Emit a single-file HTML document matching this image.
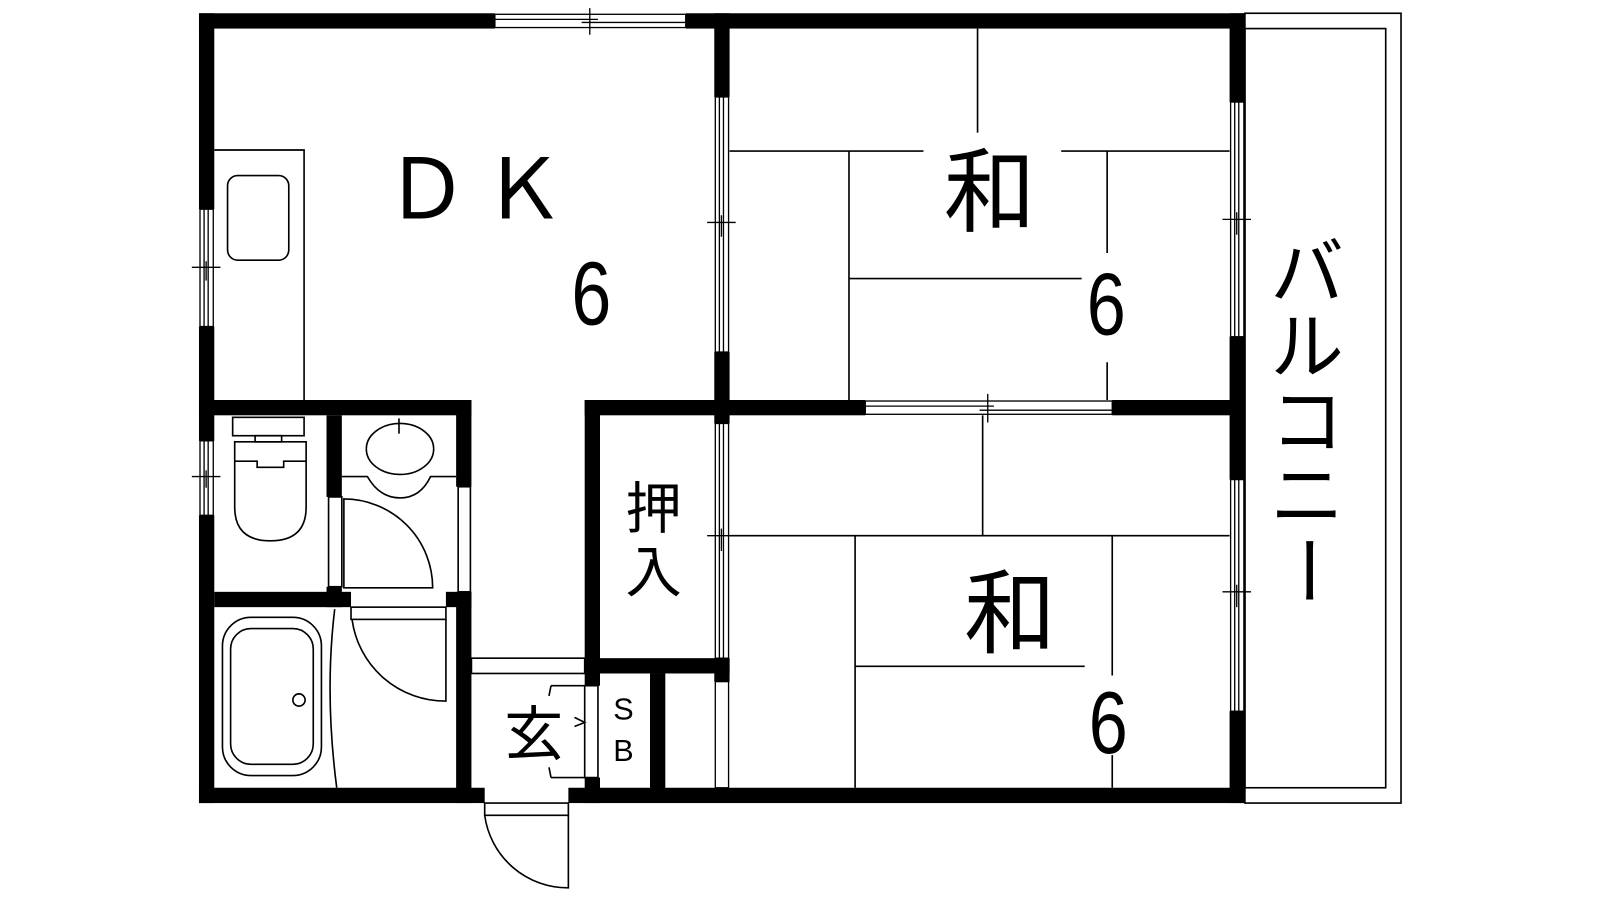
<!DOCTYPE html>
<html><head><meta charset="utf-8"><style>
html,body{margin:0;padding:0;background:#fff;}
svg{display:block;}
text{font-family:"Liberation Sans","Noto Sans CJK JP",sans-serif;fill:#000;}
</style></head><body>
<svg width="1600" height="900" viewBox="0 0 1568 882" xmlns="http://www.w3.org/2000/svg">
<rect width="1568" height="882" fill="#fff"/>
<g fill="none" stroke="#000" stroke-width="1.6">
<rect x="1220" y="13" width="153" height="774"/>
<rect x="1220" y="28" width="138" height="744"/>
<polyline points="210,147 298,147 298,392"/>
<rect x="223" y="172" width="60" height="83" rx="10"/>
<rect x="228" y="409" width="70" height="18"/>
<rect x="250" y="427" width="26" height="6"/>
<path d="M230,433 H300 V497 Q300,530 265,530 Q230,530 230,497 Z"/>
<polyline points="230,452 252,452 252,458 278,458 278,452 300,452"/>
<ellipse cx="392" cy="440" rx="33" ry="25"/>
<path d="M335,467 H360 Q372,488 392,488 Q412,488 422,467 H447"/>
<path d="M391,410 V425"/>
<rect x="322" y="487" width="13" height="88" fill="#fff"/>
<path d="M337,489 A87,87 0 0 1 424,576 H337 Z"/>
<rect x="449" y="477" width="12" height="103" fill="#fff"/>
<rect x="344" y="595" width="93" height="12" fill="#fff"/>
<path d="M345,607 A92,92 0 0 0 437,687 V607"/>
<rect x="218" y="605" width="97" height="155" rx="28"/>
<rect x="226" y="616" width="81" height="133" rx="20"/>
<circle cx="293" cy="686" r="6"/>
<path d="M328,597 Q318,680 330,772"/>
<rect x="462" y="645" width="111" height="15" fill="#fff"/>
<rect x="573" y="672" width="13" height="90" fill="#fff"/>
<polyline points="540,672 573,672"/>
<polyline points="540,762 573,762"/>
<path d="M540,672 L538,682 M540,762 L538,752"/>
<path d="M563,703 L573,708 L563,712"/>
<rect x="475" y="787" width="82" height="12" fill="#fff"/>
<path d="M475,799 A82,82 0 0 0 557,870 V799"/>
<path d="M958,28 V130"/>
<path d="M715,148 H905 M1040,148 H1205"/>
<path d="M832,148 V392"/>
<path d="M1085,148 V248 M1085,355 V392"/>
<path d="M832,273 H1060"/>
<path d="M963,407 V525"/>
<path d="M715,525 H1205"/>
<path d="M838,525 V772"/>
<path d="M1090,525 V662 M1090,740 V772"/>
<path d="M838,653 H1063"/>
</g>
<g fill="#000">
<rect x="195" y="13" width="290" height="15"/>
<rect x="672" y="13" width="548" height="15"/>
<rect x="195" y="13" width="15" height="192"/>
<rect x="195" y="320" width="15" height="112"/>
<rect x="195" y="505" width="15" height="282"/>
<rect x="195" y="772" width="280" height="15"/>
<rect x="557" y="772" width="663" height="15"/>
<rect x="1205" y="13" width="15" height="87"/>
<rect x="1205" y="330" width="15" height="140"/>
<rect x="1205" y="697" width="15" height="90"/>
<rect x="700" y="13" width="15" height="82"/>
<rect x="700" y="345" width="15" height="70"/>
<rect x="195" y="392" width="267" height="15"/>
<rect x="573" y="392" width="275" height="15"/>
<rect x="1090" y="392" width="130" height="15"/>
<rect x="320" y="407" width="15" height="80"/>
<rect x="320" y="575" width="15" height="20"/>
<rect x="447" y="392" width="15" height="85"/>
<rect x="447" y="580" width="15" height="207"/>
<rect x="210" y="580" width="134" height="15"/>
<rect x="437" y="580" width="25" height="15"/>
<rect x="573" y="392" width="15" height="280"/>
<rect x="573" y="762" width="15" height="25"/>
<rect x="573" y="645" width="142" height="15"/>
<rect x="637" y="660" width="15" height="115"/>
<rect x="700" y="645" width="15" height="23"/>
</g>
<g fill="#fff" stroke="#000" stroke-width="1.3">
<rect x="485" y="14" width="187" height="13"/>
<path d="M485,19 H575 M570,22 H672 M578,8 V34 M572,19 H586"/>
<rect x="196" y="205" width="13" height="115"/>
<path d="M200,205 V320 M204,205 V320 M188,262 H216 M202,256 V275"/>
<rect x="196" y="432" width="13" height="73"/>
<path d="M200,432 V505 M204,432 V505 M188,467 H216 M202,461 V478"/>
<rect x="701" y="95" width="13" height="250"/>
<path d="M705,95 V345 M709,95 V345 M693,218 H721 M707,211 V232"/>
<rect x="701" y="415" width="13" height="230"/>
<path d="M705,415 V645 M709,415 V645 M693,525 H721 M707,518 V540"/>
<rect x="701" y="668" width="13" height="104"/>
<rect x="1206" y="100" width="13" height="230"/>
<path d="M1210,100 V330 M1214,100 V330 M1198,215 H1226 M1212,208 V230"/>
<rect x="1206" y="470" width="13" height="227"/>
<path d="M1210,470 V697 M1214,470 V697 M1198,580 H1226 M1212,573 V595"/>
<rect x="848" y="393" width="242" height="13"/>
<path d="M848,398 H970 M960,402 H1090 M968,386 V414 M962,398 H974"/>
</g>
<text x="377" y="214" font-size="82">Ｄ</text>
<text x="472" y="214" font-size="82">Ｋ</text>
<text transform="translate(560,318) scale(0.8,1)" font-size="88">6</text>
<text x="925" y="220" font-size="90" font-family="Noto Sans CJK JP,sans-serif">和</text>
<text transform="translate(1065,328) scale(0.8,1)" font-size="86">6</text>
<text x="945" y="633" font-size="90" font-family="Noto Sans CJK JP,sans-serif">和</text>
<text transform="translate(1067,738) scale(0.8,1)" font-size="86">6</text>
<text x="613" y="518" font-size="55" font-family="Noto Sans CJK JP,sans-serif">押</text>
<text x="613" y="580" font-size="55" font-family="Noto Sans CJK JP,sans-serif">入</text>
<text x="494" y="740" font-size="58" font-family="Noto Sans CJK JP,sans-serif">玄</text>
<text x="601" y="705" font-size="30">S</text>
<text x="601" y="746" font-size="30">B</text>
<g font-size="72" font-family="Noto Sans CJK JP,sans-serif">
<text x="1245" y="292">バ</text>
<text x="1245" y="365">ル</text>
<text x="1245" y="438">コ</text>
<text x="1245" y="511">ニ</text>
<text x="1245" y="584" transform="rotate(90 1281 559)">ー</text>
</g>
</svg>
</body></html>
